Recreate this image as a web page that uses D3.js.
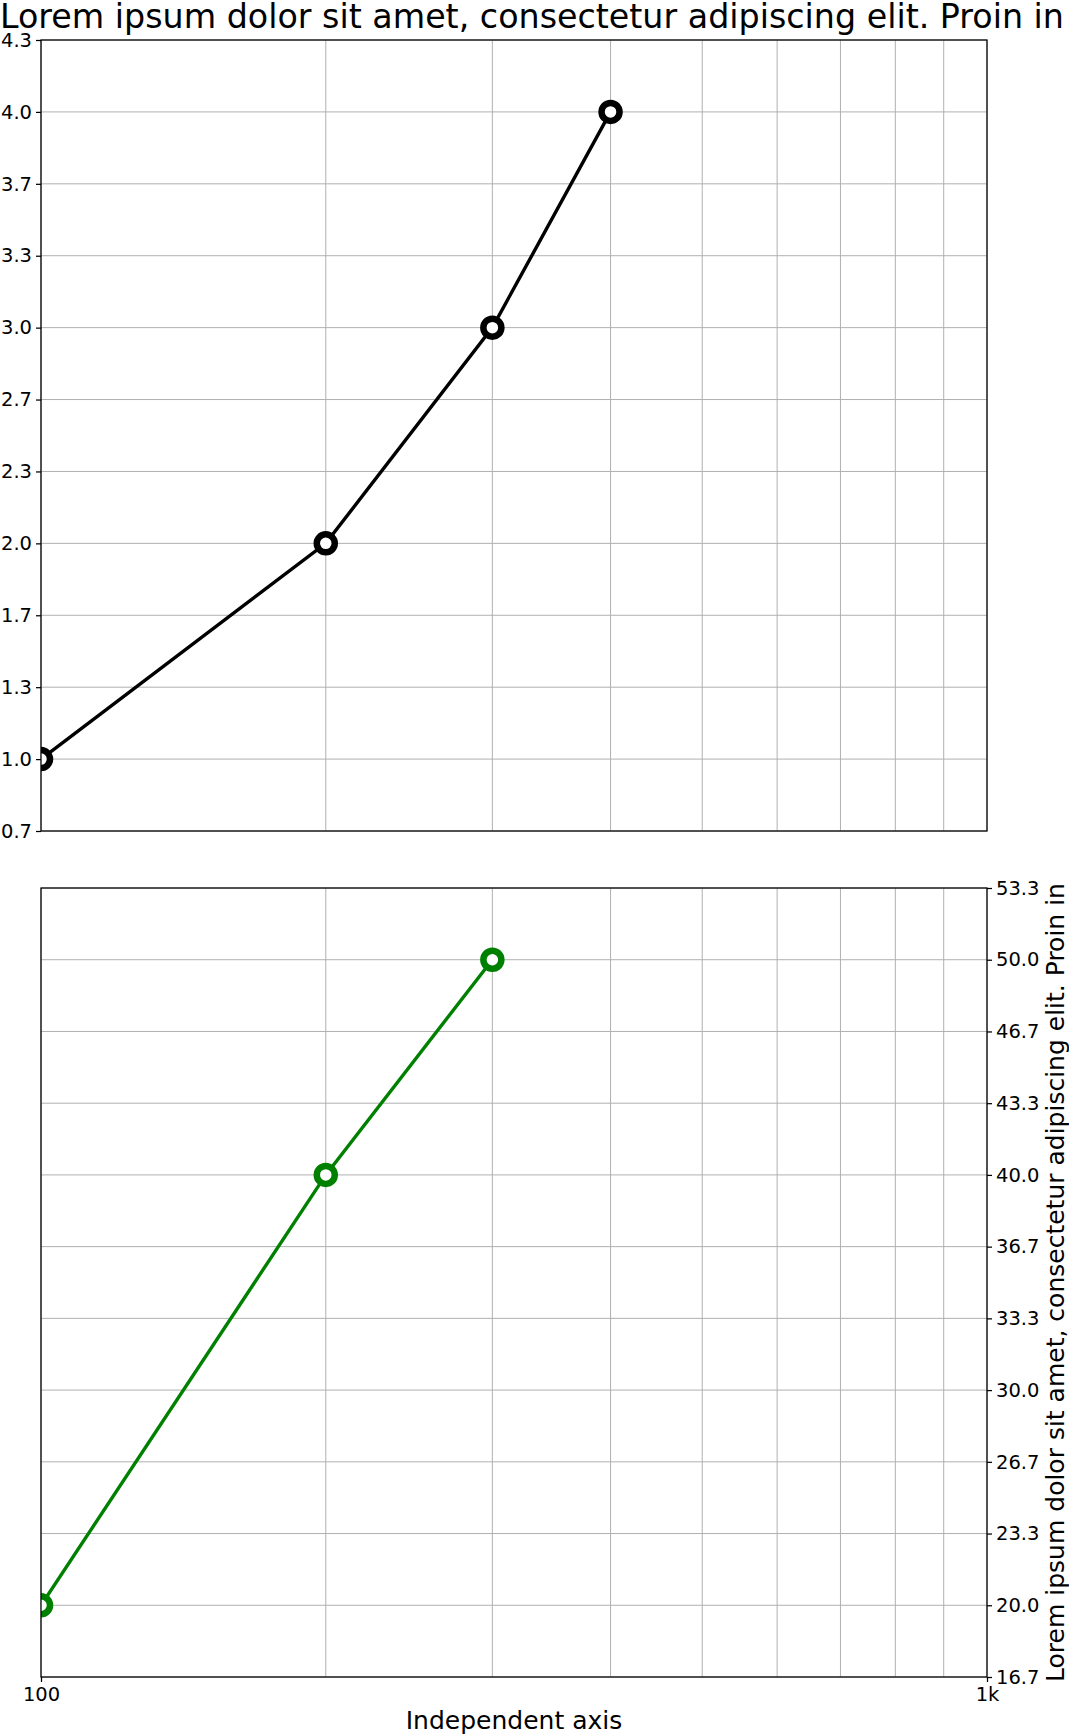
<!DOCTYPE html>
<html>
<head>
<meta charset="utf-8">
<script src="https://cdn.jsdelivr.net/npm/d3@7"></script>
<style>
  html, body { margin: 0; padding: 0; background: #fff; }
  svg { display: block; font-family: "DejaVu Sans", sans-serif; }
</style>
</head>
<body>
<script>
// ---- data ----
const titleText = "Lorem ipsum dolor sit amet, consectetur adipiscing elit. Proin in";
const xLabelText = "Independent axis";
const yLabelRightText = "Lorem ipsum dolor sit amet, consectetur adipiscing elit. Proin in";

const topX = [100, 200, 300, 400];
const topY = [1, 2, 3, 4];
const bottomX = [100, 200, 300];
const bottomY = [20, 40, 50];

const xDomain = [100, 1000];
const xTickValues = [100, 1000];
const xTickLabels = ["100", "1k"];
const xGridValues = [100, 200, 300, 400, 500, 600, 700, 800, 900, 1000];

const topYDomain = [2 / 3, 13 / 3];
const topYTicks = [2/3, 1, 4/3, 5/3, 2, 7/3, 8/3, 3, 10/3, 11/3, 4, 13/3];
const bottomYDomain = [50 / 3, 160 / 3];
const bottomYTicks = [50/3, 20, 70/3, 80/3, 30, 100/3, 110/3, 40, 130/3, 140/3, 50, 160/3];

// ---- layout ----
const W = 1069, H = 1736;
const left = 41, right = 987;
const topPanel = { y0: 40, y1: 831 };
const botPanel = { y0: 888, y1: 1677 };

const svg = d3.select("body").append("svg").attr("width", W).attr("height", H);

const x = d3.scaleLog().domain(xDomain).range([left, right]);
const yTop = d3.scaleLinear().domain(topYDomain).range([topPanel.y1, topPanel.y0]);
const yBot = d3.scaleLinear().domain(bottomYDomain).range([botPanel.y1, botPanel.y0]);

const fmt = d3.format(".1f");
const defs = svg.append("defs");
const tickFont = 19.5;

function panel(id, p, y, ticks, xs, ys, color, tickSide) {
  defs.append("clipPath").attr("id", id)
    .append("rect").attr("x", left).attr("y", p.y0)
    .attr("width", right - left).attr("height", p.y1 - p.y0);
  const g = svg.append("g");
  // grid
  g.append("g").selectAll("line").data(xGridValues).join("line")
    .attr("x1", d => x(d)).attr("x2", d => x(d))
    .attr("y1", p.y0).attr("y2", p.y1)
    .attr("stroke", "#b0b0b0").attr("stroke-width", 1);
  g.append("g").selectAll("line").data(ticks).join("line")
    .attr("x1", left).attr("x2", right)
    .attr("y1", d => y(d)).attr("y2", d => y(d))
    .attr("stroke", "#b0b0b0").attr("stroke-width", 1);
  // data
  const pts = xs.map((v, i) => [v, ys[i]]);
  const dg = g.append("g").attr("clip-path", `url(#${id})`);
  dg.append("path").datum(pts)
    .attr("d", d3.line().x(d => x(d[0])).y(d => y(d[1])))
    .attr("fill", "none").attr("stroke", color).attr("stroke-width", 3.4);
  dg.selectAll("circle").data(pts).join("circle")
    .attr("cx", d => x(d[0])).attr("cy", d => y(d[1]))
    .attr("r", 9).attr("fill", "#fff").attr("stroke", color).attr("stroke-width", 6.5);
  // frame
  g.append("rect").attr("x", left).attr("y", p.y0)
    .attr("width", right - left).attr("height", p.y1 - p.y0)
    .attr("fill", "none").attr("stroke", "#000").attr("stroke-width", 1.25);
  // y axis
  const axis = tickSide === "left" ? d3.axisLeft(y) : d3.axisRight(y);
  axis.tickValues(ticks).tickFormat(fmt).tickSize(5).tickPadding(4);
  const ag = g.append("g")
    .attr("transform", `translate(${tickSide === "left" ? left : right},0)`)
    .call(axis);
  ag.select(".domain").remove();
  ag.selectAll(".tick line").attr("stroke", "#000").attr("stroke-width", 1.25);
  ag.selectAll(".tick text").attr("font-size", tickFont).attr("fill", "#000")
    .attr("font-family", "DejaVu Sans");
  return g;
}

panel("clipTop", topPanel, yTop, topYTicks, topX, topY, "#000000", "left");
panel("clipBot", botPanel, yBot, bottomYTicks, bottomX, bottomY, "#008000", "right");

// x axis on bottom panel
const xa = d3.axisBottom(x).tickValues(xTickValues)
  .tickFormat((d, i) => xTickLabels[i]).tickSize(5).tickPadding(5);
const xg = svg.append("g").attr("transform", `translate(0,${botPanel.y1})`).call(xa);
xg.select(".domain").remove();
xg.selectAll(".tick line").attr("stroke", "#000").attr("stroke-width", 1.25);
xg.selectAll(".tick text").attr("font-size", tickFont).attr("fill", "#000")
  .attr("font-family", "DejaVu Sans");

// title
svg.append("text").attr("x", 0).attr("y", 28)
  .attr("font-size", 33.3).attr("fill", "#000")
  .text(titleText);

// x label
svg.append("text").attr("x", (left + right) / 2).attr("y", 1729)
  .attr("text-anchor", "middle").attr("font-size", 25).attr("fill", "#000")
  .text(xLabelText);

// right y label
svg.append("text")
  .attr("transform", `translate(1064,${(botPanel.y0 + botPanel.y1) / 2}) rotate(-90)`)
  .attr("text-anchor", "middle").attr("font-size", 25).attr("fill", "#000")
  .text(yLabelRightText);
</script>
</body>
</html>
